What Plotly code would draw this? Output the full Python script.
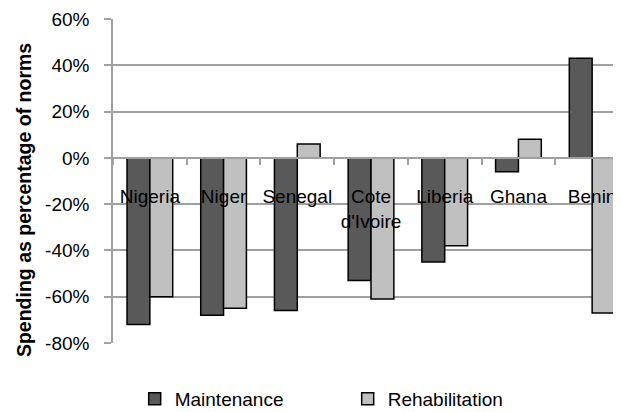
import plotly.graph_objects as go

countries = ["Nigeria", "Niger", "Senegal", "Cote d'Ivoire", "Liberia", "Ghana", "Benin"]
tick_text = ["Nigeria", "Niger", "Senegal", "Cote<br>d'Ivoire", "Liberia", "Ghana", "Benin"]
maintenance = [-72, -68, -66, -53, -45, -6, 43]
rehabilitation = [-60, -65, 6, -61, -38, 8, -67]
y_ticks = [-80, -60, -40, -20, 0, 20, 40, 60]
y_tick_text = ["-80%", "-60%", "-40%", "-20%", "0%", "20%", "40%", "60%"]

FONT = "Liberation Sans, Arial, sans-serif"

fig = go.Figure()
fig.add_trace(go.Bar(x=countries, y=maintenance, name="Maintenance",
                     marker=dict(color="#595959", line=dict(color="black", width=1.5))))
fig.add_trace(go.Bar(x=countries, y=rehabilitation, name="Rehabilitation",
                     marker=dict(color="#c0c0c0", line=dict(color="black", width=1.5))))

fig.update_layout(
    width=621, height=412, autosize=False,
    margin=dict(l=105, r=0, t=11, b=77, autoexpand=False),
    paper_bgcolor="white", plot_bgcolor="white",
    font=dict(family=FONT, size=19, color="black"),
    barmode="group", bargap=0.38, bargroupgap=0,
    showlegend=True,
    legend=dict(orientation="h", x=0.204, xanchor="left", xref="container",
                y=0.005, yanchor="bottom", yref="container",
                font=dict(size=19), itemwidth=30, tracegroupgap=0,
                entrywidthmode="pixels", entrywidth=168),
    xaxis=dict(
        type="category", range=[-0.5, 6.5],
        anchor="free", position=80/140,
        showline=True, linecolor="#a0a0a0", linewidth=1.5,
        ticks="outside", ticklen=6, tickcolor="#a0a0a0", tickwidth=1.5,
        tickson="boundaries", showgrid=False,
        tickvals=countries, ticktext=tick_text, tickangle=0,
        ticklabelstandoff=22, tickfont=dict(size=19),
        ticklabeloverflow="allow",
        zeroline=False,
    ),
    yaxis=dict(
        range=[-80, 60], tickvals=y_ticks, ticktext=y_tick_text,
        showgrid=True, gridcolor="#a0a0a0", gridwidth=1.5,
        showline=True, linecolor="#a0a0a0", linewidth=1.5,
        ticks="outside", ticklen=7, tickcolor="#a0a0a0", tickwidth=1.5,
        ticklabelstandoff=11, zeroline=False, tickfont=dict(size=19),
        title=dict(text="<b>Spending as percentage of norms</b>" + "&nbsp;" * 7,
                   standoff=8, font=dict(size=19.5)),
    ),
)

fig.write_html("out.html")
